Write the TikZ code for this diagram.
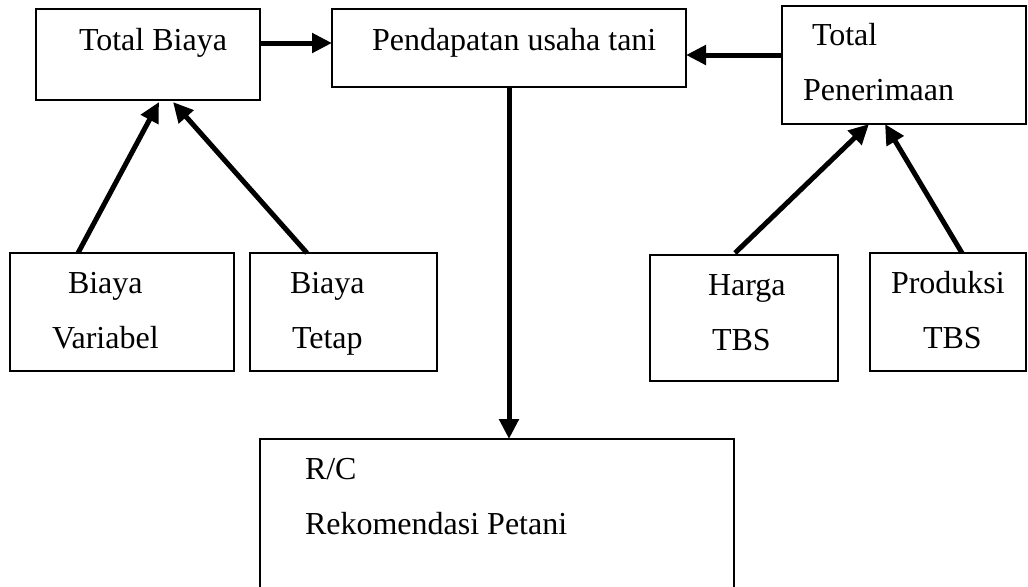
\documentclass[tikz,border=0pt]{standalone}
\usepackage{fontspec}
\setmainfont{Liberation Serif}
\usetikzlibrary{arrows.meta}
\begin{document}
\begin{tikzpicture}[x=0.5pt,y=-0.5pt,
  box/.style={draw=black,line width=1pt,rectangle,inner sep=0pt,outer sep=0pt},
  txt/.style={anchor=base west,inner sep=0pt,outer sep=0pt,font=\fontsize{16}{19}\selectfont},
  arr/.style={line width=2.5pt,-{Triangle[length=10pt,width=9.5pt]}}]
\path[use as bounding box,fill=white] (0,0) rectangle (1028,586);
\clip (0,0) rectangle (1028,586);
% boxes
\node[box,minimum width=112pt,minimum height=45.5pt] (tb) at (148,54.5) {};
\node[box,minimum width=177pt,minimum height=39pt] (pu) at (509,48) {};
\node[box,minimum width=122pt,minimum height=59pt] (tp) at (904,65) {};
\node[box,minimum width=112pt,minimum height=59pt] (bv) at (122,312) {};
\node[box,minimum width=93.5pt,minimum height=59pt] (bt) at (343.5,312) {};
\node[box,minimum width=94pt,minimum height=63pt] (hg) at (744,318) {};
\node[box,minimum width=78pt,minimum height=59pt] (pr) at (948,312) {};
\node[box,minimum width=237pt,minimum height=90.5pt] (rc) at (497,529.5) {};
% texts
\node[txt] (t1) at (79,50) {Total Biaya};
\node[txt] (t2) at (372,50) {Pendapatan usaha tani};
\node[txt] (t3) at (812,45) {Total};
\node[txt] (t4) at (803,100) {Penerimaan};
\node[txt] (t5) at (68,293) {Biaya};
\node[txt] (t6) at (52,348) {Variabel};
\node[txt] (t7) at (290,293) {Biaya};
\node[txt] (t8) at (292,348) {Tetap};
\node[txt] (t9) at (708,295) {Harga};
\node[txt] (t10) at (712,350) {TBS};
\node[txt] (t11) at (891,293) {Produksi};
\node[txt] (t12) at (923,348) {TBS};
\node[txt] (t13) at (305,479) {R/C};
\node[txt] (t14) at (305,534) {Rekomendasi Petani};
% arrows
\draw[arr] ([yshift=5.75pt]tb.east) -- ([yshift=2.5pt]pu.west);
\draw[arr] ([yshift=5pt]tp.west) -- ([yshift=-3.5pt]pu.east);
\draw[arr] (pu.south) -- (pu.south |- rc.north);
\draw[arr] ([xshift=-22pt]bv.north) -- ([xshift=5.5pt,yshift=-1pt]tb.south);
\draw[arr] ([xshift=-18.25pt]bt.north) -- ([xshift=12.5pt,yshift=-1pt]tb.south);
\draw[arr] ([xshift=-4.5pt,yshift=1pt]hg.north) -- ([xshift=-17.5pt]tp.south);
\draw[arr] ([xshift=7pt]pr.north) -- ([xshift=-9.5pt]tp.south);
\end{tikzpicture}
\end{document}
